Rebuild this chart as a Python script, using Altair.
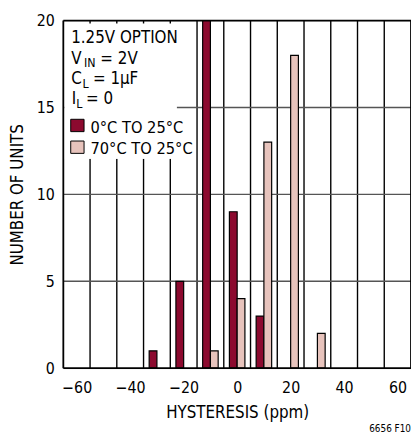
import altair as alt
import pandas as pd

# data
bin_centers = [-30, -20, -10, 0, 10, 20, 30]
cold_counts = [1, 5, 20, 9, 3, 0, 0]      # 0°C TO 25°C
hot_counts = [0, 0, 1, 4, 13, 18, 2]      # 70°C TO 25°C
x_ticks = [-60, -40, -20, 0, 20, 40, 60]
y_ticks = [0, 5, 10, 15, 20]
grid_x = [-55, -45, -35, -25, -15, -5, 5, 15, 25, 35, 45, 55]
grid_y = [5, 10, 15]

DARK = "#8c0a2f"
LIGHT = "#e7c3bc"
FONT = "DejaVu Sans Condensed"
BW = 2.9  # bar width in ppm

rows = []
for c, v in zip(bin_centers, cold_counts):
    if v > 0:
        rows.append({"center": c, "count": v, "series": "cold"})
for c, v in zip(bin_centers, hot_counts):
    if v > 0:
        rows.append({"center": c, "count": v, "series": "hot"})
bars_df = pd.DataFrame(rows)

xs = alt.Scale(domain=[-65, 65], nice=False, zero=False)
ys = alt.Scale(domain=[0, 20], nice=False)

xaxis = alt.Axis(values=x_ticks, grid=False, ticks=False, domain=False,
                 labelFont=FONT, labelFontSize=16, labelColor="black", labelPadding=12,
                 title="HYSTERESIS (ppm)", titleFont=FONT, titleFontSize=17,
                 titleFontWeight="normal", titleColor="black", titlePadding=9)
yaxis = alt.Axis(values=y_ticks, grid=False, ticks=False, domain=False,
                 labelFont=FONT, labelFontSize=16, labelColor="black", labelPadding=9,
                 title="NUMBER OF UNITS", titleFont=FONT, titleFontSize=17,
                 titleFontWeight="normal", titleColor="black", titlePadding=10)

vgrid = alt.Chart(pd.DataFrame({"g": grid_x})).mark_rule(color="black", strokeWidth=1.4).encode(
    x=alt.X("g:Q", scale=xs, axis=xaxis))
hgrid = alt.Chart(pd.DataFrame({"g": grid_y})).mark_rule(color="#555555", strokeWidth=1.4).encode(
    y=alt.Y("g:Q", scale=ys, axis=yaxis))

mask = alt.Chart(pd.DataFrame({"a": [0]})).mark_rect(color="white").encode(
    x=alt.value(1), x2=alt.value(115), y=alt.value(3), y2=alt.value(140))
mask2 = alt.Chart(pd.DataFrame({"a": [0]})).mark_rect(color="white").encode(
    x=alt.value(1), x2=alt.value(132), y=alt.value(92), y2=alt.value(140))

bars = alt.Chart(bars_df).transform_calculate(
    x0=f"datum.series == 'cold' ? datum.center - {BW} : datum.center",
    x1=f"datum.series == 'cold' ? datum.center : datum.center + {BW}",
).mark_rect(stroke="black", strokeWidth=1.2).encode(
    x=alt.X("x0:Q", scale=xs),
    x2="x1:Q",
    y=alt.Y("count:Q", scale=ys),
    y2=alt.datum(0),
    color=alt.Color("series:N", scale=alt.Scale(domain=["cold", "hot"], range=[DARK, LIGHT]), legend=None),
)

one = pd.DataFrame({"a": [0]})
frame_left = alt.Chart(one).mark_rule(color="black", strokeWidth=1.8).encode(
    x=alt.value(0), y=alt.value(0), y2=alt.value(352))
frame_right = alt.Chart(one).mark_rule(color="black", strokeWidth=1.8).encode(
    x=alt.value(352), y=alt.value(0), y2=alt.value(352))
frame_top = alt.Chart(one).mark_rule(color="black", strokeWidth=1.8).encode(
    y=alt.value(0), x=alt.value(0), x2=alt.value(352))
frame_bottom = alt.Chart(one).mark_rule(color="black", strokeWidth=1.8).encode(
    y=alt.value(352), x=alt.value(0), x2=alt.value(352))


def txt(s, x, y, size=17, align="left", baseline="alphabetic"):
    return alt.Chart(pd.DataFrame({"t": [s]})).mark_text(
        font=FONT, fontSize=size, align=align, baseline=baseline, color="black"
    ).encode(text="t:N", x=alt.value(x), y=alt.value(y))


texts = [
    txt("1.25V OPTION", 8, 23),
    txt("V", 8, 44), txt("IN", 21, 47.5, 12.5), txt("= 2V", 37.5, 44),
    txt("C", 8, 64), txt("L", 19.5, 68, 12.5), txt("= 1µF", 30, 64),
    txt("I", 8.5, 84.5), txt("L", 13, 88.5, 12.5), txt("= 0", 23, 84.5),
    txt("0°C TO 25°C", 27.5, 113.5, 16.5),
    txt("70°C TO 25°C", 27.5, 135, 16.5),
    txt("6656 F10", 352, 417, 10, align="right"),
]

swatch_df = pd.DataFrame({"s": ["cold", "hot"], "y0": [100, 122], "y1": [112.5, 134.5]})
swatches = alt.Chart(swatch_df).mark_rect(stroke="black", strokeWidth=1).encode(
    x=alt.value(7.5), x2=alt.value(21),
    y=alt.Y("y0:Q", scale=None), y2="y1:Q",
    color=alt.Color("s:N", scale=alt.Scale(domain=["cold", "hot"], range=[DARK, LIGHT]), legend=None),
)

chart = alt.layer(vgrid, hgrid, mask, mask2, bars,
                  frame_left, frame_right, frame_top, frame_bottom,
                  swatches, *texts).properties(
    width=352, height=352,
    autosize=alt.AutoSizeParams(type="none"),
    padding={"left": 56, "top": 10, "right": 0, "bottom": 69},
).configure_view(stroke=None).configure(background="white")

chart.save("out.html", embed_options={"renderer": "svg", "actions": False})
